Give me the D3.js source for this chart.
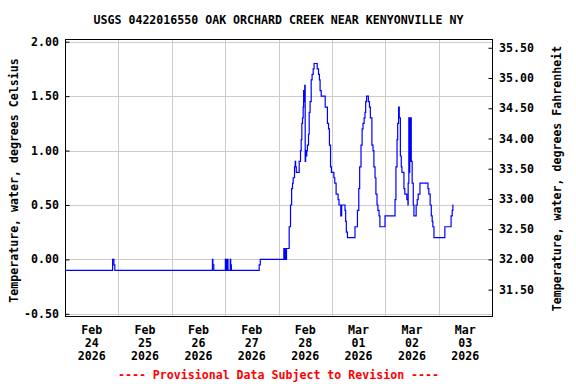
<!DOCTYPE html>
<html>
<head>
<meta charset="utf-8">
<script src="https://cdn.jsdelivr.net/npm/d3@7"></script>
<style>
  html, body { margin: 0; padding: 0; background: #fff; }
  svg { display: block; }
  text { font-family: "DejaVu Sans Mono", "Liberation Mono", monospace; font-weight: bold; font-size: 11.6px; }
</style>
</head>
<body>
<svg id="chart" width="576" height="384"></svg>
<script>
const titleText = "USGS 0422016550 OAK ORCHARD CREEK NEAR KENYONVILLE NY";
const leftAxisTitle = "Temperature, water, degrees Celsius";
const rightAxisTitle = "Temperature, water, degrees Fahrenheit";
const footnote = "---- Provisional Data Subject to Revision ----";

const celsiusTicks = [-0.5, 0.0, 0.5, 1.0, 1.5, 2.0];
const fahrenheitTicks = [31.5, 32.0, 32.5, 33.0, 33.5, 34.0, 34.5, 35.0, 35.5];
const dayLabels = [
  ["Feb", "24", "2026"], ["Feb", "25", "2026"], ["Feb", "26", "2026"], ["Feb", "27", "2026"],
  ["Feb", "28", "2026"], ["Mar", "01", "2026"], ["Mar", "02", "2026"], ["Mar", "03", "2026"]
];

// hours after 2026-02-24 00:00 and water temperature (deg C), step series
const hoursSinceStart = [
  0, 21.4, 22.0, 22.4,
  66.3, 66.5, 66.9,
  72.1, 72.3, 72.5, 72.7, 73.1, 73.3, 74.3, 74.5, 74.8,
  87.3, 87.8,
  98.4, 98.6, 98.8, 99.0, 99.2, 99.4, 99.6,
  100.8, 101.4, 101.9, 102.3, 102.6, 103.2, 103.5, 103.7, 104.0, 105.3, 105.9, 106.2, 106.5, 106.8,
  107.1, 107.3, 107.5, 107.6, 107.8, 108.0, 108.2, 108.4, 108.7, 109.0, 109.5, 109.8, 110.2, 110.7,
  111.1, 111.6, 112.0, 113.4, 114.0, 114.4, 114.7, 115.2, 117.0, 118.0, 118.5, 118.9, 119.4, 119.8,
  120.9, 121.3, 121.9, 122.8, 123.2, 124.0, 124.1, 124.3, 124.4, 125.9, 126.2, 126.5, 127.0, 127.4,
  130.4, 131.5, 132.1, 132.5, 133.1, 133.6, 134.0, 134.5, 134.9, 135.2, 135.6, 136.4, 136.9, 137.3,
  138.0, 138.5, 138.9, 139.4, 139.8, 140.3, 140.7, 141.2, 141.6, 143.9,
  148.4, 148.8, 149.3, 149.6, 150.0, 150.3, 150.8, 151.2, 151.5, 152.4, 152.8, 153.7, 154.2, 154.3,
  154.6, 154.8, 155.0, 155.2, 155.5, 155.7, 156.1, 156.6, 156.9, 157.9, 158.4, 158.8, 159.6,
  163.2, 163.6, 164.2, 164.7, 165.1, 165.4, 165.9, 170.8, 173.6, 174.1, 174.4, 174.6
];
const tempC = [
  -0.1, 0.0, -0.05, -0.1,
  0.0, -0.05, -0.1,
  0.0, -0.1, 0.0, -0.1, 0.0, -0.1, 0.0, -0.05, -0.1,
  -0.05, 0.0,
  0.1, 0.0, 0.1, 0.0, 0.1, 0.0, 0.1,
  0.3, 0.5, 0.65, 0.7, 0.75, 0.85, 0.9, 0.85, 0.8, 0.9, 1.0, 1.1, 1.25, 1.3,
  1.4, 1.55, 1.45, 1.55, 1.6, 0.9, 1.0, 0.95, 1.0, 1.05, 1.15, 1.35, 1.45, 1.65,
  1.7, 1.75, 1.8, 1.75, 1.7, 1.65, 1.55, 1.5, 1.4, 1.25, 1.2, 1.05, 0.85, 0.8,
  0.75, 0.7, 0.6, 0.55, 0.5, 0.4, 0.5, 0.4, 0.5, 0.45, 0.35, 0.25, 0.2, 0.2,
  0.3, 0.45, 0.65, 0.85, 1.05, 1.2, 1.25, 1.3, 1.35, 1.45, 1.5, 1.45, 1.4, 1.3,
  1.05, 1.0, 0.85, 0.75, 0.6, 0.5, 0.45, 0.4, 0.3, 0.4,
  0.55, 0.85, 1.1, 1.25, 1.4, 1.3, 0.95, 0.85, 0.8, 0.65, 0.6, 0.55, 0.5, 0.7,
  1.3, 0.8, 1.3, 0.9, 1.3, 0.9, 0.7, 0.5, 0.4, 0.5, 0.55, 0.6, 0.7,
  0.65, 0.6, 0.5, 0.4, 0.35, 0.3, 0.2, 0.3, 0.4, 0.45, 0.5, 0.5
];

const svg = d3.select("#chart");
const startDate = new Date(2026, 1, 24, 0, 0, 0);
const endDate = new Date(2026, 2, 4, 0, 0, 0);
const plot = { left: 65, right: 492, top: 39, bottom: 316 };

const x = d3.scaleTime().domain([startDate, endDate]).range([plot.left, plot.right]);
const yC = d3.scaleLinear().domain([-0.52, 2.025]).range([plot.bottom, plot.top]);
const yF = d3.scaleLinear().domain([32 + 1.8 * -0.52, 32 + 1.8 * 2.025]).range([plot.bottom, plot.top]);

const data = hoursSinceStart.map((h, i) => ({ t: new Date(startDate.getTime() + h * 3600000), v: tempC[i] }));

// gridlines
const grid = svg.append("g").attr("stroke", "#cccccc").attr("stroke-width", 1);
celsiusTicks.forEach(v => {
  grid.append("line").attr("x1", plot.left).attr("x2", plot.right)
    .attr("y1", Math.round(yC(v)) + 0.5).attr("y2", Math.round(yC(v)) + 0.5);
});
const days = d3.timeDay.range(startDate, endDate);
days.slice(1).forEach(d => {
  grid.append("line").attr("x1", Math.round(x(d)) + 0.5).attr("x2", Math.round(x(d)) + 0.5)
    .attr("y1", plot.top).attr("y2", plot.bottom);
});

// data line
const line = d3.line().x(d => x(d.t)).y(d => yC(d.v)).curve(d3.curveStepAfter);
svg.append("path").datum(data).attr("d", line)
  .attr("fill", "none").attr("stroke", "#0000ff").attr("stroke-width", 1.2);

// frame
svg.append("rect").attr("x", plot.left + 0.5).attr("y", plot.top + 0.5)
  .attr("width", plot.right - plot.left).attr("height", plot.bottom - plot.top)
  .attr("fill", "none").attr("stroke", "#000").attr("stroke-width", 1);

// left axis (inner ticks)
const leftAxis = d3.axisRight(yC).tickValues(celsiusTicks).tickSize(4).tickFormat("");
svg.append("g").attr("transform", `translate(${plot.left + 0.5},0)`).call(leftAxis)
  .call(g => g.select(".domain").remove());
celsiusTicks.forEach(v => {
  svg.append("text").attr("x", 59).attr("y", yC(v)).attr("dy", "0.35em")
    .attr("text-anchor", "end").text(v.toFixed(2));
});

// right axis (inner ticks)
const rightAxis = d3.axisLeft(yF).tickValues(fahrenheitTicks).tickSize(4).tickFormat("");
svg.append("g").attr("transform", `translate(${plot.right + 0.5},0)`).call(rightAxis)
  .call(g => g.select(".domain").remove());
fahrenheitTicks.forEach(v => {
  svg.append("text").attr("x", 499).attr("y", yF(v)).attr("dy", "0.35em")
    .attr("text-anchor", "start").text(v.toFixed(2));
});

// bottom date labels
days.forEach((d, i) => {
  const cx = x(d3.timeHour.offset(d, 12));
  dayLabels[i].forEach((s, j) => {
    svg.append("text").attr("x", cx).attr("y", 330 + j * 13).attr("dy", "0.35em")
      .attr("text-anchor", "middle").text(s);
  });
});

// title
svg.append("text").attr("x", (plot.left + plot.right) / 2).attr("y", 20).attr("dy", "0.35em")
  .attr("text-anchor", "middle").text(titleText);

// axis titles
svg.append("text").attr("transform", `translate(14,${(plot.top + plot.bottom) / 2 + 3}) rotate(-90)`)
  .attr("dy", "0.35em").attr("text-anchor", "middle").text(leftAxisTitle);
svg.append("text").attr("transform", `translate(557,${(plot.top + plot.bottom) / 2 + 1}) rotate(-90)`)
  .attr("dy", "0.35em").attr("text-anchor", "middle").text(rightAxisTitle);

// footnote
svg.append("text").attr("x", (plot.left + plot.right) / 2).attr("y", 375).attr("dy", "0.35em")
  .attr("text-anchor", "middle").attr("fill", "#ff0000").text(footnote);
</script>
</body>
</html>
